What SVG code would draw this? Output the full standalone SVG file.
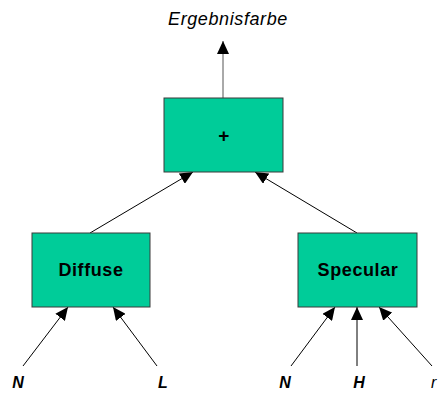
<svg xmlns="http://www.w3.org/2000/svg" width="439" height="394" viewBox="0 0 439 394">
  <style>
    .box { fill: #00cc99; stroke: #3a3a3a; stroke-width: 1; }
    .name { font-family: "Liberation Sans", Arial, sans-serif; font-weight: bold; font-size: 18px; text-anchor: middle; fill: #000; letter-spacing: 0.6px; }
    .input { font-family: "Liberation Sans", Arial, sans-serif; font-weight: bold; font-style: italic; font-size: 16px; text-anchor: middle; fill: #000; }
    .result { font-family: "Liberation Sans", Arial, sans-serif; font-style: italic; font-size: 18px; text-anchor: middle; fill: #000; letter-spacing: 0.6px; }
    .edge { stroke: #000; stroke-width: 1; fill: none; marker-end: url(#head); }
  </style>
  <defs>
    <marker id="head" markerUnits="userSpaceOnUse" markerWidth="14" markerHeight="12" refX="13" refY="6" orient="auto">
      <path d="M0,0 L13,6 L0,12 z" fill="#000"/>
    </marker>
  </defs>
  <rect width="439" height="394" fill="#fff"/>

  <g id="connectors">
    <line class="edge" x1="223" y1="98" x2="223" y2="41" style="stroke:#555"/>
    <line class="edge" x1="90" y1="233" x2="193" y2="172"/>
    <line class="edge" x1="357" y1="233" x2="255" y2="172"/>
    <line class="edge" x1="23" y1="366" x2="68" y2="307"/>
    <line class="edge" x1="157" y1="366" x2="113" y2="307"/>
    <line class="edge" x1="291" y1="366" x2="335" y2="307"/>
    <line class="edge" x1="357" y1="366" x2="357" y2="307"/>
    <line class="edge" x1="432" y1="366" x2="379" y2="307"/>
  </g>

  <g id="result">
    <text class="result" x="228" y="25">Ergebnisfarbe</text>
  </g>

  <g id="sum">
    <rect class="box" x="164" y="98" width="119" height="74"/>
    <text class="name" x="224" y="142" style="font-size:19px">+</text>
  </g>

  <g id="diffuse">
    <rect class="box" x="32" y="233" width="118" height="74"/>
    <text class="name" x="91" y="276">Diffuse</text>
  </g>

  <g id="specular">
    <rect class="box" x="298" y="233" width="119" height="74"/>
    <text class="name" x="358" y="276">Specular</text>
  </g>

  <g id="inputs">
    <text class="input" x="18" y="388">N</text>
    <text class="input" x="163" y="388">L</text>
    <text class="input" x="285" y="388">N</text>
    <text class="input" x="359" y="388">H</text>
    <text class="result" x="431" y="388" style="font-size:16px;text-anchor:start;letter-spacing:0">r</text>
  </g>
</svg>
